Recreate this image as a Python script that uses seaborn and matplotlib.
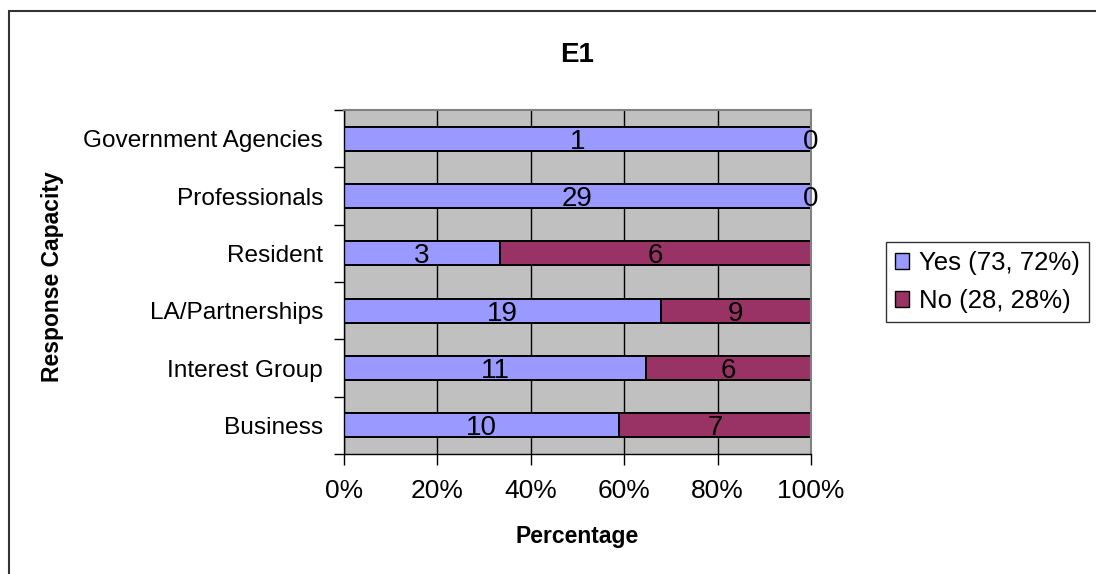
import matplotlib
matplotlib.use("Agg")
import matplotlib.pyplot as plt
from matplotlib.patches import Patch, Rectangle
import seaborn as sns
import pandas as pd
import numpy as np

categories = ["Government Agencies", "Professionals", "Resident",
              "LA/Partnerships", "Interest Group", "Business"]
yes_counts = [1, 29, 3, 19, 11, 10]
no_counts = [0, 0, 6, 9, 6, 7]
legend_labels = ["Yes (73, 72%)", "No (28, 28%)"]
x_ticks = [0, 20, 40, 60, 80, 100]
x_tick_labels = ["0%", "20%", "40%", "60%", "80%", "100%"]
title = "E1"
x_label = "Percentage"
y_label = "Response Capacity"

yes_color = "#9999FF"
no_color = "#993366"

sns.set_style("white")
plt.rcParams["font.family"] = ["Liberation Sans", "DejaVu Sans"]
plt.rcParams["text.color"] = "black"
plt.rcParams["xtick.color"] = "black"
plt.rcParams["ytick.color"] = "black"
plt.rcParams["axes.labelcolor"] = "black"

df = pd.DataFrame({"category": categories, "yes": yes_counts, "no": no_counts})
df["total"] = df["yes"] + df["no"]
df["yes_pct"] = df["yes"] / df["total"] * 100
df["full"] = 100.0

W, H = 1096, 574
fig = plt.figure(figsize=(W / 100, H / 100), dpi=100)
ax = fig.add_axes([344 / W, 1 - 454 / H, (811 - 344) / W, (454 - 110) / H])
ax.set_facecolor("#C0C0C0")

sns.barplot(data=df, y="category", x="full", order=categories, orient="h",
            color=no_color, width=0.42, edgecolor="black", linewidth=1.4,
            saturation=1, ax=ax)
sns.barplot(data=df, y="category", x="yes_pct", order=categories, orient="h",
            color=yes_color, width=0.42, edgecolor="black", linewidth=1.4,
            saturation=1, ax=ax)

for i, row in df.iterrows():
    nopct = 100 - row["yes_pct"]
    for xc, val in [(row["yes_pct"] / 2, row["yes"]),
                    (row["yes_pct"] + nopct / 2, row["no"])]:
        ax.annotate(str(val), xy=(xc, i), xytext=(0, -7.2),
                    textcoords="offset points", ha="center", va="baseline",
                    fontsize=20, color="black")

ax.set_xlim(0, 100)
ax.set_ylim(len(categories) - 0.5, -0.5)
ax.set_xticks(x_ticks)
ax.set_xticklabels(x_tick_labels, fontsize=19)
ax.set_yticks(range(len(categories)))
ax.set_yticklabels(categories, fontsize=17.6)
ax.set_yticks(np.arange(-0.5, len(categories), 1.0), minor=True)
ax.tick_params(axis="y", which="major", length=0, pad=15)
ax.tick_params(axis="y", which="minor", length=7, width=1, color="black",
               direction="out", left=True)
ax.tick_params(axis="x", which="major", length=8, width=1, color="black",
               direction="out", bottom=True, pad=10)
ax.set_xlabel("")
ax.set_ylabel("")
ax.set_axisbelow(True)
ax.grid(axis="x", color="black", linewidth=1)
ax.grid(axis="y", visible=False)
for s in ["left", "bottom"]:
    ax.spines[s].set_color("black")
    ax.spines[s].set_linewidth(1)
for s in ["top", "right"]:
    ax.spines[s].set_color("#808080")
    ax.spines[s].set_linewidth(1.5)

fig.text(577.5 / W, 1 - 62 / H, title, ha="center", va="baseline",
         fontsize=20, fontweight="bold")
fig.text(577.5 / W, 1 - 543 / H, x_label, ha="center", va="baseline",
         fontsize=16.5, fontweight="bold")
fig.text(53 / W, 1 - 277 / H, y_label, ha="center", va="center",
         rotation=90, fontsize=16.5, fontweight="bold")

handles = [Patch(facecolor=yes_color, edgecolor="black", linewidth=1),
           Patch(facecolor=no_color, edgecolor="black", linewidth=1)]
leg = fig.legend(handles, legend_labels, loc="center left",
                 bbox_to_anchor=(886 / W, 1 - 282 / H), fontsize=18.5,
                 frameon=True, fancybox=False, edgecolor="black",
                 handlelength=0.55, handleheight=0.55, handletextpad=0.4,
                 borderpad=0.35, borderaxespad=0, labelspacing=0.55)
leg.get_frame().set_linewidth(1)

fig.patches.append(Rectangle((9 / W, -0.1), 1.2, 0.1 + (1 - 11 / H),
                             transform=fig.transFigure, fill=False,
                             edgecolor="#333333", linewidth=1.5))

fig.savefig("out.png", dpi=100)
